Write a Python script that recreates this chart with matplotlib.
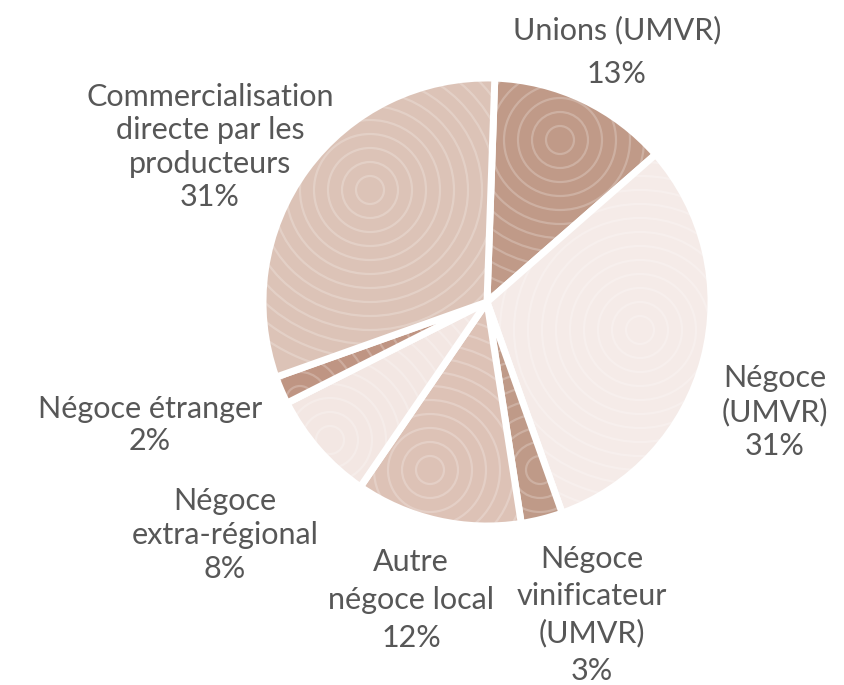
import matplotlib
matplotlib.use("Agg")
import matplotlib.pyplot as plt
from matplotlib.patches import Circle

labels = ["Unions (UMVR)\n13%",
          "Négoce\n(UMVR)\n31%",
          "Négoce\nvinificateur\n(UMVR)\n3%",
          "Autre\nnégoce local\n12%",
          "Négoce\nextra-régional\n8%",
          "Négoce étranger\n2%",
          "Commercialisation\ndirecte par les\nproducteurs\n31%"]
values = [13, 31, 3, 12, 8, 2, 31]
colors = ["#c09a88", "#f5ebe8", "#bf9a88", "#ddc2b6", "#f3e7e3", "#bf9583", "#dcc3b7"]
explode = [0.03, 0.04, 0.03, 0.01, 0.03, 0.03, 0.01]

W, H = 845, 685
fig = plt.figure(figsize=(W / 100, H / 100), dpi=100)
ax = fig.add_axes([0, 0, 1, 1])
cx, cy, r = 487, H - 302, 224
wedges, _ = ax.pie(values, colors=colors, startangle=88, counterclock=False,
                   explode=explode, center=(cx, cy), radius=r,
                   wedgeprops=dict(edgecolor="white", linewidth=5))

# subtle swirl texture clipped to each wedge
swirl_centers = [(560, 140), (640, 330), (540, 470), (430, 470), (330, 440), (300, 400), (370, 190)]
for w, col, (sx, sy) in zip(wedges, colors, swirl_centers):
    for k in range(1, 14):
        c = Circle((sx, H - sy), 14 * k, fill=False, edgecolor="white", alpha=0.22, lw=1.6)
        ax.add_patch(c)
        c.set_clip_path(w)

ax.set_xlim(0, W)
ax.set_ylim(0, H)
ax.set_aspect("equal")
ax.axis("off")

txt = dict(fontsize=22, color="#575757", family=["Lato", "DejaVu Sans"],
           ha="center", va="center")
label_pos = [(617, 52), (775, 412), (592, 615), (411, 600), (225, 535), (150, 425), (210, 147)]
spacing = [1.69, 1.24, 1.38, 1.44, 1.28, 1.18, 1.22]
for lab, (x, y), ls in zip(labels, label_pos, spacing):
    ax.text(x, H - y, lab, linespacing=ls, **txt)

fig.savefig("out.png", dpi=100)
